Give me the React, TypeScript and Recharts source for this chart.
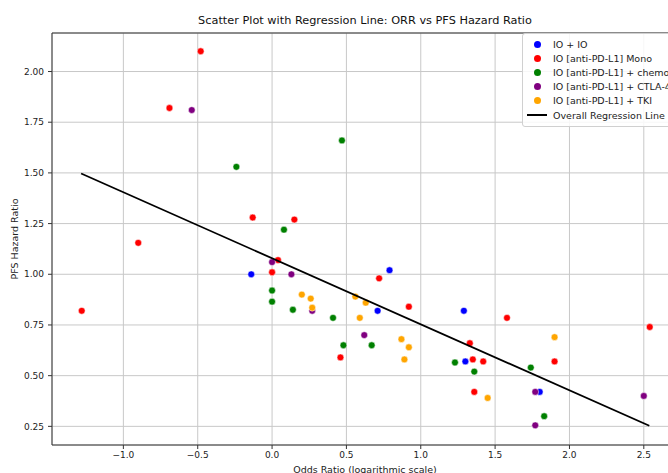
import { CartesianGrid, ReferenceLine, Scatter, ScatterChart, XAxis, YAxis } from "recharts";

// [odds ratio (log), PFS hazard ratio]
const ioIo: [number, number][] = [
  [-0.14, 1.0], [0.71, 0.82], [0.79, 1.02], [1.29, 0.82], [1.3, 0.57], [1.8, 0.42],
];
const pdl1Mono: [number, number][] = [
  [-0.48, 2.1], [-0.69, 1.82], [-0.13, 1.28], [0.15, 1.27], [-0.9, 1.155], [-1.28, 0.82],
  [0.04, 1.07], [0.0, 1.01], [0.46, 0.59], [0.72, 0.98], [0.92, 0.84], [1.58, 0.785],
  [1.33, 0.66], [1.35, 0.58], [1.42, 0.57], [1.36, 0.42], [1.9, 0.57], [2.54, 0.74],
];
const pdl1Chemo: [number, number][] = [
  [0.47, 1.66], [-0.24, 1.53], [0.08, 1.22], [0.0, 0.92], [0.0, 0.865], [0.14, 0.825],
  [0.41, 0.785], [0.48, 0.65], [0.67, 0.65], [1.23, 0.565], [1.36, 0.52], [1.74, 0.54],
  [1.83, 0.3],
];
const pdl1Ctla4: [number, number][] = [
  [-0.54, 1.81], [0.0, 1.06], [0.13, 1.0], [0.27, 0.82], [0.62, 0.7], [1.77, 0.42],
  [1.77, 0.255], [2.5, 0.4],
];
const pdl1Tki: [number, number][] = [
  [0.2, 0.9], [0.26, 0.88], [0.27, 0.835], [0.56, 0.89], [0.59, 0.785], [0.63, 0.86],
  [0.87, 0.68], [0.92, 0.64], [0.89, 0.58], [1.45, 0.39], [1.9, 0.69],
];

const regSlope = -0.3256;
const regIntercept = 1.079;
const regX = [-1.284, 2.537];

const xTicks = [-1, -0.5, 0, 0.5, 1, 1.5, 2, 2.5];
const yTicks = [0.25, 0.5, 0.75, 1.0, 1.25, 1.5, 1.75, 2.0];

const series = [
  { name: "IO + IO", color: "#0000ff", points: ioIo },
  { name: "IO [anti-PD-L1] Mono", color: "#ff0000", points: pdl1Mono },
  { name: "IO [anti-PD-L1] + chemo", color: "#008000", points: pdl1Chemo },
  { name: "IO [anti-PD-L1] + CTLA-4", color: "#800080", points: pdl1Ctla4 },
  { name: "IO [anti-PD-L1] + TKI", color: "#ffa500", points: pdl1Tki },
];

const toRows = (pts: [number, number][]) => pts.map(([x, y]) => ({ x, y }));
const regRows = regX.map((x) => ({ x, y: regSlope * x + regIntercept }));

const FONT = "'DejaVu Sans', sans-serif";
const fmtX = (v: number) => v.toFixed(1).replace("-", "\u2212");
const fmtY = (v: number) => v.toFixed(2);

export default function App() {
  return (
    <div
      style={{
        position: "absolute",
        left: 0,
        top: 0,
        width: 668,
        height: 473,
        overflow: "hidden",
        background: "#fff",
        fontFamily: FONT,
      }}
    >
      <div
        style={{
          position: "absolute",
          top: 14,
          left: 365,
          transform: "translateX(-50%)",
          whiteSpace: "nowrap",
          fontSize: 11.3,
          color: "#111",
        }}
      >
        Scatter Plot with Regression Line: ORR vs PFS Hazard Ratio
      </div>

      <ScatterChart width={700} height={480} margin={{ top: 33, right: 22, left: 0, bottom: 0 }}>
        <CartesianGrid stroke="#c8c8c8" strokeWidth={1} />
        <XAxis
          type="number"
          dataKey="x"
          domain={[-1.48, 2.73]}
          ticks={xTicks}
          tickFormatter={fmtX}
          allowDataOverflow
          height={35}
          tickSize={4}
          tickMargin={3}
          stroke="#333"
          tick={{ fontSize: 9, fill: "#222", fontFamily: FONT }}
          label={{
            value: "Odds Ratio (logarithmic scale)",
            position: "insideBottom",
            offset: 7,
            fontSize: 9.5,
            fill: "#222",
            fontFamily: FONT,
          }}
        />
        <YAxis
          type="number"
          dataKey="y"
          domain={[0.158, 2.19]}
          ticks={yTicks}
          tickFormatter={fmtY}
          allowDataOverflow
          width={52}
          tickSize={4}
          tickMargin={4}
          stroke="#333"
          tick={{ fontSize: 9, fill: "#222", fontFamily: FONT }}
          label={{
            value: "PFS Hazard Ratio",
            angle: -90,
            position: "insideLeft",
            offset: 15,
            fontSize: 9.5,
            fill: "#222",
            fontFamily: FONT,
            style: { textAnchor: "middle" },
          }}
        />
        <ReferenceLine y={2.19} stroke="#333" ifOverflow="extendDomain" />
        {series.map((s) => (
          <Scatter
            key={s.name}
            name={s.name}
            data={toRows(s.points)}
            fill={s.color}
            isAnimationActive={false}
            shape={(p: any) => (
              <circle cx={p.cx} cy={p.cy} r={3.4} fill={s.color} stroke="#fff" strokeWidth={0.5} />
            )}
          />
        ))}
        <Scatter
          name="Overall Regression Line"
          data={regRows}
          line={{ stroke: "#000", strokeWidth: 1.8 }}
          shape={() => <g />}
          isAnimationActive={false}
        />
      </ScatterChart>

      <div
        style={{
          position: "absolute",
          left: 522,
          top: 33,
          width: 170,
          padding: "3px 0 4px 0",
          border: "1px solid #d0d0d0",
          borderRadius: 3,
          background: "rgba(255,255,255,0.85)",
          fontSize: 9.5,
          color: "#222",
        }}
      >
        {series.map((s) => (
          <div key={s.name} style={{ display: "flex", alignItems: "center", height: 14.2, whiteSpace: "nowrap" }}>
            <span
              style={{
                display: "inline-block",
                width: 7,
                height: 7,
                borderRadius: "50%",
                background: s.color,
                marginLeft: 11,
                marginRight: 12,
              }}
            />
            {s.name}
          </div>
        ))}
        <div style={{ display: "flex", alignItems: "center", height: 14.2, whiteSpace: "nowrap" }}>
          <span
            style={{
              display: "inline-block",
              width: 20,
              height: 1.8,
              background: "#000",
              marginLeft: 4,
              marginRight: 6,
            }}
          />
          Overall Regression Line
        </div>
      </div>
    </div>
  );
}
